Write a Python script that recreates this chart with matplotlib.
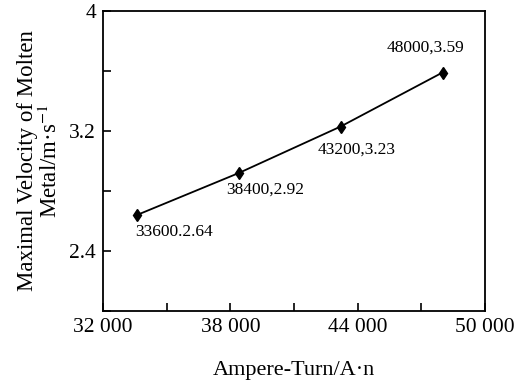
import matplotlib
matplotlib.use("Agg")
import matplotlib.pyplot as plt
from matplotlib.ticker import FixedLocator, FuncFormatter

ampere_turn = [33600, 38400, 43200, 48000]
velocity = [2.64, 2.92, 3.23, 3.59]
point_labels = ["33600.2.64", "38400,2.92", "43200,3.23", "48000,3.59"]
label_offsets = [(-2, -17), (-13, -17), (-23, -23), (-56, 25)]  # pixels (dx, dy) from point to text left/center

x_major = [32000, 38000, 44000, 50000]
x_minor = [35000, 41000, 47000]
y_major = [2.4, 3.2, 4.0]
y_minor = [2.0, 2.8, 3.6]

plt.rcParams['font.family'] = ['Liberation Serif', 'DejaVu Serif']
plt.rcParams['mathtext.fontset'] = 'stix'

fig = plt.figure(figsize=(5.18, 3.81), dpi=100)
ax = fig.add_axes([103/518, 1 - 311/381, (485-103)/518, (311-11)/381])

ax.plot(ampere_turn, velocity, color='black', lw=1.3, marker='d', ms=6.5, mfc='black', mec='black')

for x, y, t, (dx, dy) in zip(ampere_turn, velocity, point_labels, label_offsets):
    ax.annotate(t, (x, y), xytext=(dx, dy), textcoords='offset pixels',
                ha='left', va='center', fontsize=12.5)

ax.set_xlim(32000, 50000)
ax.set_ylim(2.0, 4.0)
ax.xaxis.set_major_locator(FixedLocator(x_major))
ax.xaxis.set_minor_locator(FixedLocator(x_minor))
ax.yaxis.set_major_locator(FixedLocator(y_major))
ax.yaxis.set_minor_locator(FixedLocator(y_minor))
ax.xaxis.set_major_formatter(FuncFormatter(lambda v, p: f"{int(v)//1000} {int(v)%1000:03d}"))
ax.yaxis.set_major_formatter(FuncFormatter(lambda v, p: f"{v:g}"))

ax.tick_params(which='both', direction='in', width=1.2, labelsize=15.5, pad=5)
ax.tick_params(which='major', length=6)
ax.tick_params(which='minor', length=6)
for s in ax.spines.values():
    s.set_linewidth(1.3)

ax.set_xlabel("Ampere-Turn/A·n", fontsize=16, labelpad=17)
ax.set_ylabel("Maximal Velocity of Molten\nMetal/m·s$^{-1}$", fontsize=16.5, labelpad=5, linespacing=1.05)

fig.savefig("out.png", dpi=100)
